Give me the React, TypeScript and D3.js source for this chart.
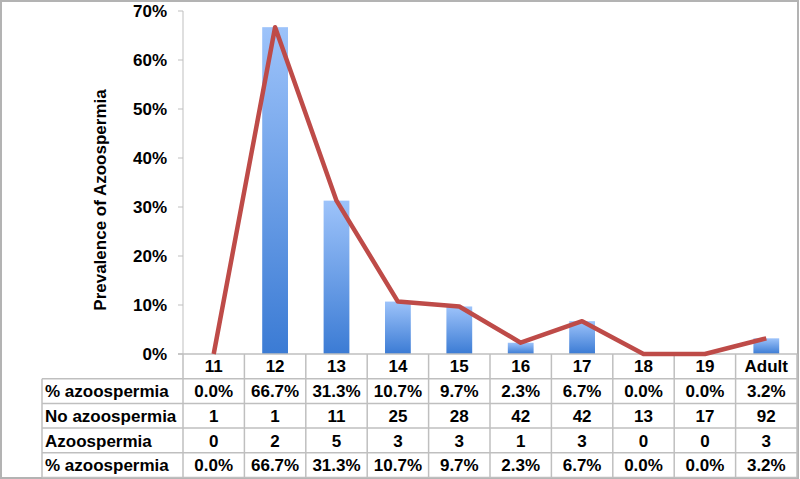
import React from "react";
import * as d3 from "d3";

const categories = ["11", "12", "13", "14", "15", "16", "17", "18", "19", "Adult"];
const prevalence = [0.0, 0.667, 0.313, 0.107, 0.097, 0.023, 0.067, 0.0, 0.0, 0.032];
const noAzoo = [1, 1, 11, 25, 28, 42, 42, 13, 17, 92];
const azoo = [0, 2, 5, 3, 3, 1, 3, 0, 0, 3];
const pctLabels = ["0.0%", "66.7%", "31.3%", "10.7%", "9.7%", "2.3%", "6.7%", "0.0%", "0.0%", "3.2%"];
const yTicks = [0, 0.1, 0.2, 0.3, 0.4, 0.5, 0.6, 0.7];
const rowLabels = ["% azoospermia", "No azoospermia", "Azoospermia", "% azoospermia"];

const W = 800;
const H = 479;
const FONT = "'Liberation Sans', Arial, Helvetica, sans-serif";
const FS = 17;

export default function App() {
  const plotLeft = 183;
  const plotRight = 797;
  const yTop = 11;
  const yBottom = 354;
  const labelLeft = 42;
  const rowH = 24.7;

  const x = d3.scaleBand<string>().domain(categories).range([plotLeft, plotRight]).padding(0);
  const y = d3.scaleLinear().domain([0, 0.7]).range([yBottom, yTop]);
  const bw = x.bandwidth();
  const barW = bw * 0.42;

  const line = d3
    .line<number>()
    .x((_, i) => (x(categories[i]) as number) + bw / 2)
    .y((d) => y(d));

  const rows: string[][] = [
    pctLabels,
    noAzoo.map(String),
    azoo.map(String),
    pctLabels,
  ];

  const tableTop = yBottom;
  const rowYs = d3.range(6).map((i) => tableTop + i * rowH);
  const gridColor = "#bfbfbf";

  return (
    <svg
      width={W}
      height={H}
      style={{ position: "absolute", left: 0, top: 0, background: "#fff" }}
      fontFamily={FONT}
    >
      <defs>
        <linearGradient id="barGrad" x1="0" y1="0" x2="0" y2="1">
          <stop offset="0%" stopColor="#9dc3fa" />
          <stop offset="100%" stopColor="#3b7bd4" />
        </linearGradient>
      </defs>
      {/* outer frame */}
      <rect x={1} y={1} width={797} height={477} fill="#fff" stroke="#b3b3b3" strokeWidth={2} />

      {/* y axis */}
      <line x1={plotLeft} x2={plotLeft} y1={yTop} y2={yBottom} stroke={gridColor} strokeWidth={1} />
      {yTicks.map((t) => (
        <g key={t}>
          <line x1={plotLeft - 5} x2={plotLeft} y1={y(t)} y2={y(t)} stroke={gridColor} strokeWidth={1} />
          <text
            x={167}
            y={y(t)}
            dy="0.35em"
            textAnchor="end"
            fontSize={FS}
            fontWeight="bold"
            fill="#000"
          >
            {d3.format(".0%")(t)}
          </text>
        </g>
      ))}
      <text
        transform={`translate(106,200) rotate(-90)`}
        textAnchor="middle"
        fontSize={FS}
        fontWeight="bold"
        fill="#000"
      >
        Prevalence of Azoospermia
      </text>

      {/* bars */}
      {prevalence.map((v, i) => (
        <rect
          key={categories[i]}
          x={(x(categories[i]) as number) + bw / 2 - barW / 2}
          y={y(v)}
          width={barW}
          height={yBottom - y(v)}
          fill="url(#barGrad)"
        />
      ))}

      {/* table grid */}
      <line x1={plotLeft - 5} x2={plotRight} y1={rowYs[0]} y2={rowYs[0]} stroke={gridColor} strokeWidth={1.5} />
      {rowYs.slice(1).map((ry, i) => (
        <line key={i} x1={labelLeft} x2={plotRight} y1={ry} y2={ry} stroke={gridColor} strokeWidth={1.5} />
      ))}
      <line x1={labelLeft} x2={labelLeft} y1={rowYs[1]} y2={rowYs[5]} stroke={gridColor} strokeWidth={1.5} />
      {categories.map((c) => (
        <line
          key={c}
          x1={x(c) as number}
          x2={x(c) as number}
          y1={rowYs[0]}
          y2={rowYs[5]}
          stroke={gridColor}
          strokeWidth={1.5}
        />
      ))}
      <line x1={plotRight} x2={plotRight} y1={rowYs[0]} y2={rowYs[5]} stroke={gridColor} strokeWidth={1.5} />

      {/* category labels */}
      {categories.map((c) => (
        <text
          key={c}
          x={(x(c) as number) + bw / 2}
          y={rowYs[0] + rowH / 2}
          dy="0.36em"
          textAnchor="middle"
          fontSize={FS}
          fontWeight="bold"
          fill="#000"
        >
          {c}
        </text>
      ))}

      {/* rows */}
      {rows.map((vals, r) => (
        <g key={r}>
          <text
            x={labelLeft + 3}
            y={rowYs[r + 1] + rowH / 2}
            dy="0.36em"
            fontSize={FS}
            fontWeight="bold"
            fill="#000"
          >
            {rowLabels[r]}
          </text>
          {vals.map((v, i) => (
            <text
              key={i}
              x={(x(categories[i]) as number) + bw / 2}
              y={rowYs[r + 1] + rowH / 2}
              dy="0.36em"
              textAnchor="middle"
              fontSize={FS}
              fontWeight="bold"
              fill="#000"
            >
              {v}
            </text>
          ))}
        </g>
      ))}

      {/* line */}
      <path
        d={line(prevalence) || ""}
        fill="none"
        stroke="#be4b48"
        strokeWidth={4.5}
        strokeLinejoin="round"
        strokeLinecap="butt"
      />
    </svg>
  );
}
